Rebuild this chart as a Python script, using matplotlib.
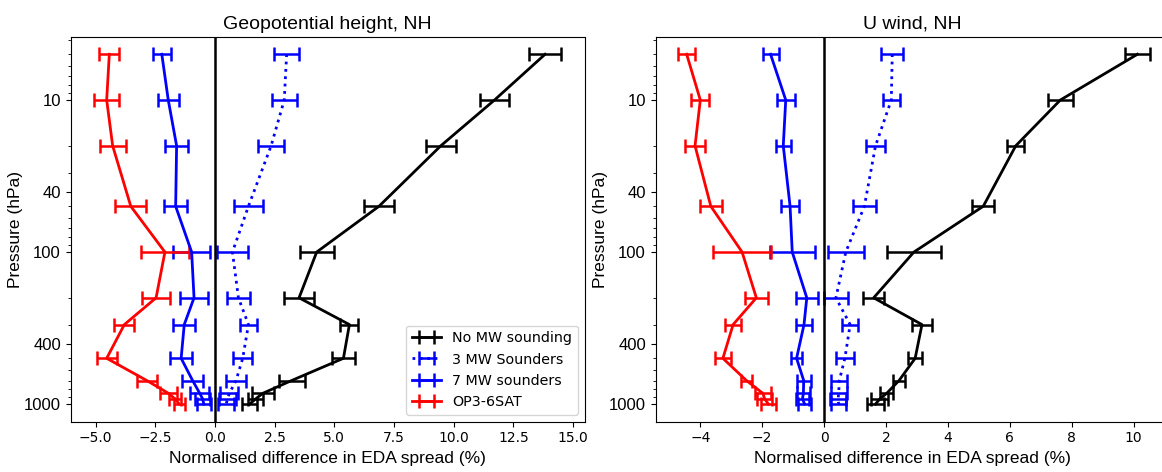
import numpy as np
import matplotlib
matplotlib.use("Agg")
import matplotlib.pyplot as plt
from matplotlib.ticker import FixedLocator, NullFormatter

levels = [5, 10, 20, 50, 100, 200, 300, 500, 700, 850, 925, 1000]
ytick_vals = [10, 40, 100, 400, 1000]
labels = ["No MW sounding", "3 MW Sounders", "7 MW sounders", "OP3-6SAT"]

# geopotential height, NH
gh_nomw = [13.83, 11.71, 9.46, 6.87, 4.26, 3.52, 5.63, 5.38, 3.21, 2.00, 1.70, 1.45]
gh_nomw_err = [0.68, 0.61, 0.63, 0.63, 0.71, 0.61, 0.38, 0.48, 0.55, 0.46, 0.31, 0.30]
gh_3mw = [3.00, 2.90, 2.35, 1.40, 0.73, 0.98, 1.40, 1.16, 0.88, 0.60, 0.52, 0.47]
gh_3mw_err = [0.51, 0.52, 0.53, 0.60, 0.64, 0.49, 0.37, 0.40, 0.42, 0.38, 0.36, 0.33]
gh_7mw = [-2.23, -1.96, -1.61, -1.65, -0.98, -0.88, -1.29, -1.42, -0.94, -0.64, -0.52, -0.47]
gh_7mw_err = [0.38, 0.45, 0.47, 0.47, 0.78, 0.59, 0.46, 0.47, 0.45, 0.40, 0.32, 0.30]
gh_op3 = [-4.43, -4.54, -4.29, -3.53, -2.10, -2.47, -3.80, -4.54, -2.86, -1.95, -1.68, -1.50]
gh_op3_err = [0.42, 0.52, 0.54, 0.65, 1.00, 0.57, 0.42, 0.42, 0.41, 0.35, 0.25, 0.24]

# u wind, NH
u_nomw = [10.12, 7.63, 6.19, 5.14, 2.90, 1.60, 3.16, 2.94, 2.42, 2.02, 1.80, 1.66]
u_nomw_err = [0.40, 0.40, 0.28, 0.35, 0.87, 0.33, 0.33, 0.22, 0.18, 0.20, 0.27, 0.27]
u_3mw = [2.20, 2.17, 1.66, 1.30, 0.70, 0.38, 0.84, 0.67, 0.49, 0.47, 0.45, 0.47]
u_3mw_err = [0.35, 0.28, 0.30, 0.37, 0.58, 0.38, 0.26, 0.29, 0.26, 0.26, 0.25, 0.24]
u_7mw = [-1.73, -1.24, -1.32, -1.10, -1.03, -0.56, -0.65, -0.89, -0.66, -0.67, -0.70, -0.63]
u_7mw_err = [0.26, 0.29, 0.25, 0.30, 0.73, 0.35, 0.26, 0.19, 0.22, 0.22, 0.21, 0.21]
u_op3 = [-4.44, -4.00, -4.17, -3.66, -2.65, -2.19, -2.94, -3.27, -2.51, -1.98, -1.92, -1.80]
u_op3_err = [0.28, 0.29, 0.32, 0.35, 0.93, 0.38, 0.27, 0.27, 0.18, 0.25, 0.24, 0.24]

sans = "Liberation Sans"
fig = plt.figure(figsize=(11.62, 4.72), dpi=100)
ax1 = fig.add_axes([0.0608, 0.1066, 0.4426, 0.815])
ax2 = fig.add_axes([0.5643, 0.1066, 0.442, 0.815])


def panel(ax, series, title, xlim, xticks):
    styles = [("black", "-"), ("blue", ":"), ("blue", "-"), ("red", "-")]
    for (x, xe), (c, ls), lab in zip(series, styles, labels):
        ax.errorbar(x, levels, xerr=xe, color=c, linestyle=ls, linewidth=2,
                    elinewidth=1.8, capsize=5, capthick=1.8, label=lab)
    ax.axvline(0, color="black", linewidth=1.8)
    ax.set_yscale("log")
    ax.set_ylim(1306, 3.85)
    ax.set_xlim(xlim)
    ax.set_xticks(xticks)
    ax.yaxis.set_major_locator(FixedLocator(ytick_vals))
    ax.set_yticklabels([str(v) for v in ytick_vals], fontsize=12, family=sans)
    ax.yaxis.set_minor_formatter(NullFormatter())
    ax.set_title(title, fontsize=14, family=sans)
    ax.set_xlabel("Normalised difference in EDA spread (%)", fontsize=12.5, family=sans)
    ax.set_ylabel("Pressure (hPa)", fontsize=12.5, family=sans, labelpad=1)


panel(ax1, [(gh_nomw, gh_nomw_err), (gh_3mw, gh_3mw_err), (gh_7mw, gh_7mw_err), (gh_op3, gh_op3_err)],
      "Geopotential height, NH", (-6.05, 15.5), [-5, -2.5, 0, 2.5, 5, 7.5, 10, 12.5, 15])
panel(ax2, [(u_nomw, u_nomw_err), (u_3mw, u_3mw_err), (u_7mw, u_7mw_err), (u_op3, u_op3_err)],
      "U wind, NH", (-5.44, 11.15), [-4, -2, 0, 2, 4, 6, 8, 10])
ax1.legend(loc="lower right", fontsize=10.3)

fig.savefig("out.png", dpi=100)
